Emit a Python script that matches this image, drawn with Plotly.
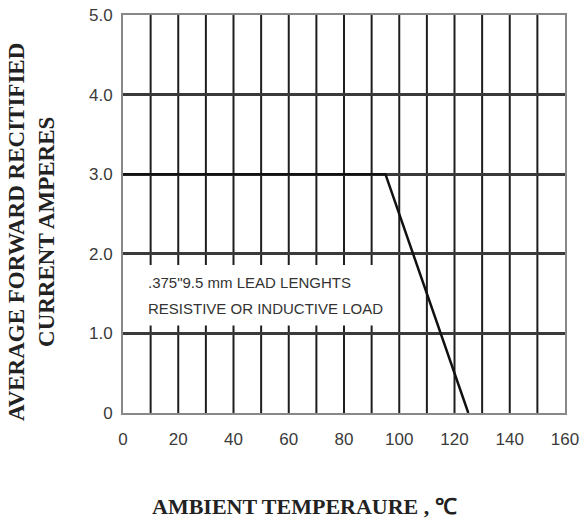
import plotly.graph_objects as go

temp = [0, 95, 125]
current = [3.0, 3.0, 0.0]
x_ticks = [0, 20, 40, 60, 80, 100, 120, 140, 160]
x_tick_text = ["0", "20", "40", "60", "80", "100", "120", "140", "160"]
y_ticks = [0, 1, 2, 3, 4, 5]
y_tick_text = ["0", "1.0", "2.0", "3.0", "4.0", "5.0"]
note_lines = [".375\"9.5 mm LEAD LENGHTS", "RESISTIVE OR INDUCTIVE LOAD"]
note_y = [1.64, 1.31]

W, H = 581, 526
ML, MR, MT, MB = 123, 16, 15, 113
pw, ph = W - ML - MR, H - MT - MB

def px_x(p):
    return (p - ML) / pw

def px_y(p):
    return (H - MB - p) / ph

fig = go.Figure()

# vertical gridlines every 10
for xv in range(10, 160, 10):
    fig.add_shape(type="line", x0=xv, x1=xv, y0=0, y1=5, xref="x", yref="y",
                  line=dict(color="#1e1e1e", width=2), layer="below")

fig.add_trace(go.Scatter(x=temp, y=current, mode="lines",
                         line=dict(color="#111111", width=2.5), showlegend=False,
                         hoverinfo="skip"))

tick_font = dict(family="Liberation Sans, Arial", size=17, color="#3a3a3a")
fig.update_xaxes(range=[0, 160], tickvals=x_ticks, ticktext=x_tick_text,
                 showgrid=False, zeroline=False, showline=True, linecolor="#888888",
                 linewidth=2, mirror=True, ticks="", tickfont=tick_font,
                 ticklabelstandoff=10, automargin=False)
fig.update_yaxes(range=[0, 5], tickvals=y_ticks, ticktext=y_tick_text,
                 showgrid=True, gridcolor="#3a3a3a", gridwidth=2.5,
                 zeroline=False, showline=True, linecolor="#888888",
                 linewidth=2, mirror=True, ticks="", tickfont=tick_font,
                 ticklabelstandoff=5, automargin=False)

# white box behind the note (interrupts gridlines)
fig.add_shape(type="rect", x0=1, x1=97, y0=1.1, y1=1.86, xref="x", yref="y",
              fillcolor="white", line=dict(width=0), layer="above")

note_font = dict(family="Liberation Sans, Arial", size=15, color="#333333")
for txt, yv in zip(note_lines, note_y):
    fig.add_annotation(x=px_x(146), y=yv, xref="paper", yref="y", xanchor="left",
                       yanchor="middle", text=txt, showarrow=False, font=note_font)

title_font = dict(family="Liberation Serif, Times New Roman, serif", size=22, color="#222222")
fig.add_annotation(x=px_x(304), y=px_y(506), xref="paper", yref="paper",
                   xanchor="center", yanchor="middle",
                   text="<b>AMBIENT TEMPERAURE , ℃</b>", showarrow=False, font=title_font)
fig.add_annotation(x=px_x(31), y=px_y(232), xref="paper", yref="paper",
                   xanchor="center", yanchor="middle",
                   text="<b>AVERAGE FORWARD RECITIFIED<br>CURRENT AMPERES</b>",
                   showarrow=False, textangle=-90, align="center",
                   font=dict(title_font, size=23))

fig.update_layout(width=W, height=H, margin=dict(l=ML, r=MR, t=MT, b=MB, autoexpand=False),
                  plot_bgcolor="white", paper_bgcolor="white")

fig.write_html("out.html", config={"displayModeBar": False},
               post_script="document.body.style.margin='0';document.body.style.overflow='hidden';")
